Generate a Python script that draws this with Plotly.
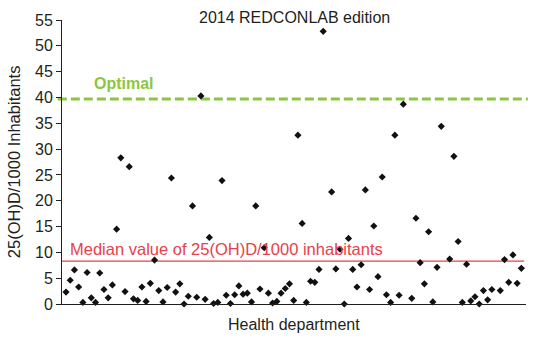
import plotly.graph_objects as go

# Health department slot index and 25(OH)D/1000 inhabitants value
departments = [1, 2, 3, 4, 5, 6, 7, 8, 9, 10, 11, 12, 13, 14, 15, 16, 17, 18, 19, 20,
               21, 22, 23, 24, 25, 26, 27, 28, 29, 30, 31, 32, 33, 34, 35, 36, 37, 38, 39, 40,
               41, 42, 43, 44, 45, 46, 47, 48, 49, 50, 51, 52, 53, 54, 55, 56, 57, 58, 59, 60,
               61, 62, 64, 65, 66, 67, 68, 69, 70, 71, 72, 73, 74, 75, 76, 77, 78, 79, 80, 81,
               83, 84, 85, 86, 87, 88, 89, 90, 92, 93, 94, 95, 96, 97, 98, 99, 100, 101, 102,
               104, 105, 106, 107, 108, 109]
values = [2.3, 4.6, 6.6, 3.3, 0.3, 6.1, 1.2, 0.3, 6.0, 2.8, 1.2, 3.7, 14.5, 28.3, 2.4, 26.6, 1.0, 0.7, 3.3, 0.5,
          4.0, 8.5, 2.6, 0.4, 3.2, 24.4, 2.3, 3.9, 0.0, 1.5, 19.0, 1.3, 40.3, 0.9, 12.9, 0.1, 0.3, 23.9, 1.7, 0.1,
          1.8, 3.5, 1.9, 2.1, 0.4, 19.0, 2.9, 10.9, 2.1, 0.2, 0.5, 2.1, 3.0, 3.9, 0.7, 32.7, 15.6, 0.3, 4.4, 4.2,
          6.7, 52.8, 21.7, 6.8, 10.6, 0.0, 12.7, 6.7, 3.3, 7.6, 22.1, 2.8, 15.1, 5.3, 24.6, 1.8, 0.3, 32.7, 1.7, 38.7,
          1.1, 16.6, 8.0, 3.9, 14.0, 0.4, 7.1, 34.4, 8.7, 28.6, 12.1, 0.3, 7.7, 0.6, 1.4, 0.0, 2.6, 0.8, 2.8,
          2.6, 8.6, 4.2, 9.5, 4.0, 6.9]

optimal_value = 39.7
median_value = 8.3
y_ticks = [0, 5, 10, 15, 20, 25, 30, 35, 40, 45, 50, 55]

title_text = "2014 REDCONLAB edition"
x_title = "Health department"
y_title = "25(OH)D/1000 Inhabitants"
optimal_label = "Optimal"
median_label = "Median value of 25(OH)D/1000 inhabitants"

FONT = "Liberation Sans, Arial, sans-serif"
DARK = "#231f20"
GREEN = "#8cc63f"
RED = "#e8404a"

fig = go.Figure()
fig.add_trace(go.Scatter(
    x=departments, y=values, mode="markers",
    marker=dict(symbol="diamond", size=5.5, color="#111111"),
    showlegend=False, cliponaxis=False,
))

# reference lines
fig.add_shape(type="line", xref="paper", yref="y", x0=-0.009, x1=1.004,
              y0=optimal_value, y1=optimal_value,
              line=dict(color=GREEN, width=3, dash="9px,4px"), layer="below")
fig.add_shape(type="line", xref="paper", yref="y", x0=0.0, x1=0.996,
              y0=median_value, y1=median_value,
              line=dict(color=RED, width=1.3), layer="below")

fig.add_annotation(text=optimal_label, xref="paper", yref="y", x=0.0647, y=42.7,
                   xanchor="left", yanchor="middle", showarrow=False,
                   font=dict(family=FONT, size=16, color=GREEN, weight="bold"))
fig.add_annotation(text=median_label, xref="paper", yref="y", x=0.0129, y=10.6,
                   xanchor="left", yanchor="middle", showarrow=False,
                   font=dict(family=FONT, size=16.5, color=RED))
fig.add_annotation(text=title_text, xref="paper", yref="paper", x=0.5, y=1.0105,
                   xanchor="center", yanchor="middle", showarrow=False,
                   font=dict(family=FONT, size=16, color=DARK))
fig.add_annotation(text=x_title, xref="paper", yref="paper", x=0.5, y=-0.073,
                   xanchor="center", yanchor="middle", showarrow=False,
                   font=dict(family=FONT, size=16, color=DARK))
fig.add_annotation(text=y_title, xref="paper", yref="paper", x=-0.103, y=0.5,
                   xanchor="center", yanchor="middle", showarrow=False, textangle=-90,
                   font=dict(family=FONT, size=16.5, color=DARK))

fig.update_xaxes(range=[0.05, 110.1], showticklabels=False, ticks="", showgrid=False,
                 zeroline=False, showline=True, linecolor=DARK, linewidth=1)
fig.update_yaxes(range=[0, 55], tickvals=y_ticks, ticks="outside", ticklen=5,
                 tickcolor=DARK, tickwidth=1, showgrid=False, zeroline=False,
                 showline=True, linecolor=DARK, linewidth=1,
                 tickfont=dict(family=FONT, size=16, color=DARK))

fig.update_layout(
    width=539, height=343,
    margin=dict(l=62, r=13, t=17, b=39),
    paper_bgcolor="white", plot_bgcolor="white",
    font=dict(family=FONT, color=DARK),
)

fig.write_html("out.html")
